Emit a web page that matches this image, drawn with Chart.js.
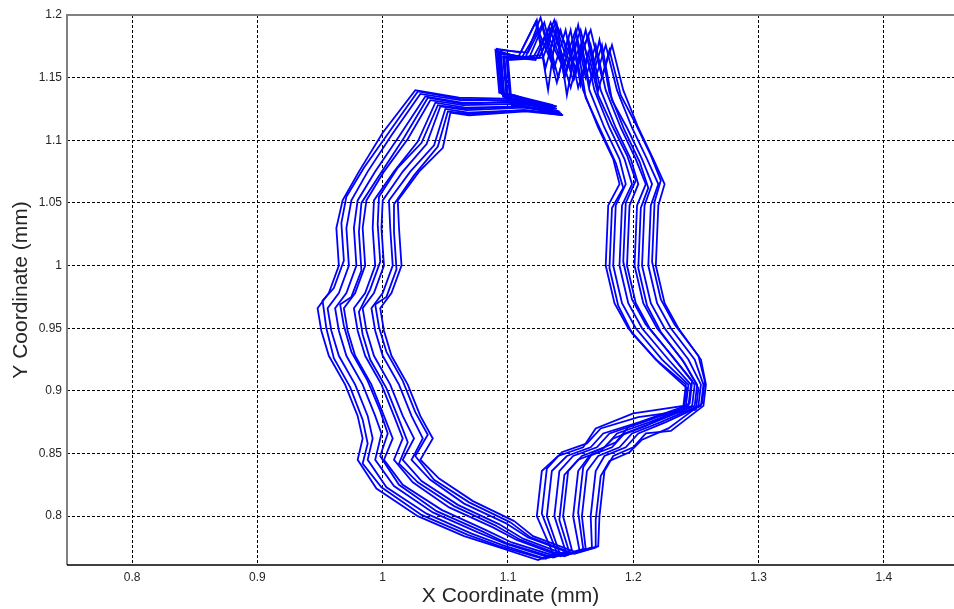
<!DOCTYPE html>
<html>
<head>
<meta charset="utf-8">
<script src="https://cdn.jsdelivr.net/npm/chart.js@4.4.0/dist/chart.umd.min.js"></script>
<style>
  html, body { margin: 0; padding: 0; background: #fff; }
  #wrap { width: 954px; height: 609px; }
</style>
</head>
<body>
<div id="wrap"><canvas id="chart" width="954" height="609"></canvas></div>
<script>
// axis limits and ticks
const xRange = [0.748, 1.456];
const yRange = [0.761, 1.2];
const xTicks = [0.8, 0.9, 1, 1.1, 1.2, 1.3, 1.4];
const yTicks = [0.8, 0.85, 0.9, 0.95, 1, 1.05, 1.1, 1.15, 1.2];

// repeated loops of the tip path (x mm, y mm)
const trace1 = [[1.065,0.784],[1.028,0.800],[0.995,0.822],[0.980,0.845],[0.984,0.862],[0.980,0.880],[0.970,0.905],[0.957,0.928],[0.951,0.948],[0.948,0.966],[0.957,0.978],[0.965,1.000],[0.963,1.030],[0.968,1.052],[0.981,1.075],[1.000,1.106],[1.026,1.140],[1.061,1.134],[1.106,1.133],[1.136,1.128],[1.104,1.136],[1.093,1.138],[1.090,1.172],[1.108,1.166],[1.122,1.194],[1.130,1.158],[1.138,1.188],[1.145,1.150],[1.153,1.176],[1.160,1.140],[1.172,1.110],[1.184,1.085],[1.189,1.065],[1.180,1.048],[1.178,1.000],[1.185,0.970],[1.196,0.950],[1.218,0.925],[1.242,0.905],[1.240,0.888],[1.200,0.882],[1.170,0.870],[1.160,0.855],[1.140,0.848],[1.127,0.836],[1.123,0.800],[1.136,0.770],[1.124,0.765],[1.090,0.776]];
const trace2 = [[1.071,0.786],[1.035,0.802],[1.003,0.823],[0.988,0.845],[0.992,0.862],[0.988,0.880],[0.978,0.905],[0.965,0.928],[0.959,0.948],[0.956,0.966],[0.965,0.978],[0.973,1.000],[0.971,1.030],[0.975,1.052],[0.988,1.075],[1.007,1.104],[1.030,1.137],[1.062,1.132],[1.107,1.132],[1.137,1.127],[1.106,1.135],[1.095,1.137],[1.092,1.171],[1.111,1.166],[1.124,1.188],[1.134,1.164],[1.142,1.188],[1.150,1.158],[1.158,1.176],[1.165,1.140],[1.177,1.110],[1.189,1.085],[1.194,1.065],[1.186,1.048],[1.184,1.000],[1.191,0.970],[1.202,0.950],[1.223,0.925],[1.244,0.905],[1.242,0.888],[1.205,0.875],[1.176,0.866],[1.166,0.855],[1.147,0.848],[1.135,0.836],[1.131,0.800],[1.141,0.771],[1.130,0.766],[1.095,0.777]];
const trace3 = [[1.076,0.787],[1.040,0.803],[1.009,0.824],[0.994,0.845],[0.999,0.866],[0.994,0.880],[0.984,0.905],[0.971,0.928],[0.965,0.948],[0.962,0.966],[0.971,0.978],[0.979,1.000],[0.977,1.030],[0.980,1.052],[0.994,1.075],[1.013,1.103],[1.034,1.135],[1.063,1.130],[1.108,1.130],[1.138,1.126],[1.107,1.133],[1.096,1.135],[1.093,1.170],[1.114,1.166],[1.126,1.198],[1.137,1.158],[1.146,1.188],[1.153,1.150],[1.161,1.176],[1.169,1.140],[1.181,1.110],[1.193,1.085],[1.199,1.065],[1.191,1.048],[1.189,1.000],[1.196,0.970],[1.207,0.950],[1.228,0.925],[1.246,0.905],[1.244,0.888],[1.208,0.875],[1.181,0.866],[1.171,0.855],[1.152,0.848],[1.141,0.836],[1.137,0.800],[1.146,0.772],[1.133,0.767],[1.098,0.778]];
const trace4 = [[1.082,0.789],[1.047,0.805],[1.016,0.825],[1.001,0.845],[1.008,0.862],[1.001,0.880],[0.991,0.905],[0.978,0.928],[0.972,0.948],[0.969,0.966],[0.978,0.978],[0.986,1.000],[0.984,1.030],[0.987,1.052],[1.001,1.075],[1.020,1.101],[1.038,1.132],[1.064,1.128],[1.109,1.129],[1.139,1.125],[1.109,1.132],[1.097,1.134],[1.094,1.169],[1.117,1.166],[1.129,1.194],[1.140,1.150],[1.150,1.188],[1.158,1.144],[1.166,1.176],[1.174,1.140],[1.186,1.110],[1.198,1.085],[1.204,1.065],[1.197,1.048],[1.195,1.000],[1.202,0.970],[1.213,0.950],[1.233,0.925],[1.249,0.905],[1.247,0.888],[1.213,0.875],[1.187,0.866],[1.177,0.855],[1.159,0.848],[1.148,0.836],[1.144,0.800],[1.151,0.773],[1.138,0.768],[1.103,0.779]];
const trace5 = [[1.088,0.791],[1.053,0.807],[1.024,0.827],[1.009,0.845],[1.016,0.862],[1.009,0.880],[0.999,0.905],[0.986,0.928],[0.980,0.948],[0.977,0.966],[0.986,0.978],[0.994,1.000],[0.992,1.030],[0.993,1.052],[1.009,1.075],[1.028,1.099],[1.042,1.130],[1.066,1.126],[1.111,1.127],[1.141,1.123],[1.111,1.130],[1.099,1.132],[1.096,1.167],[1.120,1.166],[1.131,1.186],[1.144,1.158],[1.154,1.188],[1.162,1.150],[1.170,1.176],[1.178,1.140],[1.190,1.110],[1.202,1.085],[1.210,1.065],[1.203,1.048],[1.201,1.000],[1.208,0.970],[1.219,0.950],[1.239,0.925],[1.251,0.905],[1.249,0.888],[1.217,0.875],[1.193,0.866],[1.183,0.855],[1.165,0.848],[1.156,0.836],[1.152,0.800],[1.157,0.773],[1.142,0.768],[1.107,0.781]];
const trace6 = [[1.094,0.793],[1.060,0.809],[1.031,0.828],[1.016,0.845],[1.025,0.862],[1.016,0.880],[1.006,0.905],[0.993,0.928],[0.987,0.948],[0.984,0.966],[0.993,0.978],[1.001,1.000],[0.999,1.030],[1.000,1.052],[1.016,1.075],[1.035,1.097],[1.046,1.127],[1.067,1.124],[1.112,1.126],[1.142,1.122],[1.113,1.129],[1.100,1.131],[1.097,1.166],[1.123,1.166],[1.134,1.194],[1.147,1.158],[1.158,1.188],[1.167,1.150],[1.175,1.176],[1.183,1.132],[1.195,1.110],[1.207,1.085],[1.215,1.065],[1.209,1.048],[1.207,1.000],[1.214,0.970],[1.225,0.950],[1.244,0.925],[1.254,0.905],[1.252,0.888],[1.222,0.875],[1.199,0.866],[1.189,0.855],[1.172,0.848],[1.163,0.836],[1.159,0.800],[1.162,0.774],[1.147,0.769],[1.112,0.782]];
const trace7 = [[1.099,0.794],[1.065,0.810],[1.038,0.829],[1.023,0.845],[1.032,0.862],[1.023,0.880],[1.013,0.905],[1.000,0.928],[0.994,0.948],[0.991,0.966],[1.000,0.978],[1.008,1.000],[1.006,1.030],[1.005,1.052],[1.022,1.075],[1.041,1.096],[1.050,1.125],[1.068,1.122],[1.113,1.124],[1.143,1.121],[1.114,1.127],[1.102,1.130],[1.099,1.165],[1.125,1.166],[1.136,1.190],[1.150,1.142],[1.162,1.188],[1.170,1.150],[1.178,1.176],[1.187,1.140],[1.199,1.110],[1.211,1.085],[1.220,1.065],[1.214,1.048],[1.212,1.000],[1.219,0.970],[1.230,0.950],[1.249,0.925],[1.256,0.905],[1.254,0.888],[1.226,0.875],[1.204,0.866],[1.194,0.855],[1.177,0.848],[1.170,0.836],[1.166,0.800],[1.167,0.775],[1.151,0.770],[1.116,0.783]];
const trace8 = [[1.105,0.796],[1.072,0.812],[1.045,0.830],[1.030,0.845],[1.040,0.862],[1.030,0.880],[1.020,0.905],[1.007,0.928],[1.001,0.948],[0.998,0.966],[1.007,0.978],[1.015,1.000],[1.013,1.030],[1.012,1.052],[1.029,1.075],[1.048,1.094],[1.054,1.122],[1.069,1.120],[1.114,1.123],[1.144,1.120],[1.116,1.126],[1.103,1.128],[1.100,1.164],[1.128,1.166],[1.138,1.194],[1.154,1.158],[1.166,1.188],[1.175,1.150],[1.183,1.176],[1.192,1.140],[1.204,1.110],[1.216,1.085],[1.225,1.065],[1.220,1.048],[1.218,1.000],[1.225,0.970],[1.236,0.950],[1.254,0.925],[1.258,0.905],[1.256,0.888],[1.230,0.868],[1.210,0.866],[1.200,0.855],[1.184,0.848],[1.177,0.836],[1.173,0.800],[1.172,0.776],[1.155,0.771],[1.120,0.784]];
const trace9 = [[1.068,0.785],[1.031,0.801],[0.999,0.823],[0.984,0.842],[0.988,0.858],[0.984,0.877],[0.974,0.903],[0.961,0.926],[0.955,0.950],[0.952,0.972],[0.961,0.982],[0.969,1.004],[0.967,1.034],[0.971,1.055],[0.985,1.078],[1.004,1.105],[1.028,1.139],[1.062,1.133],[1.107,1.131],[1.134,1.126],[1.105,1.136],[1.094,1.138],[1.091,1.173],[1.110,1.170],[1.123,1.196],[1.132,1.140],[1.139,1.192],[1.147,1.136],[1.155,1.180],[1.162,1.134],[1.174,1.108],[1.186,1.082],[1.192,1.062],[1.183,1.046],[1.181,0.998],[1.188,0.968],[1.199,0.946],[1.221,0.922],[1.243,0.902],[1.240,0.884],[1.204,0.879],[1.174,0.870],[1.163,0.858],[1.143,0.851],[1.131,0.838],[1.127,0.802],[1.139,0.771],[1.128,0.766],[1.093,0.776]];
const trace10 = [[1.079,0.788],[1.043,0.804],[1.013,0.825],[0.998,0.848],[1.004,0.866],[0.998,0.884],[0.988,0.908],[0.975,0.931],[0.969,0.952],[0.966,0.969],[0.975,0.975],[0.983,0.996],[0.981,1.027],[0.983,1.050],[0.998,1.073],[1.017,1.102],[1.036,1.134],[1.064,1.129],[1.109,1.131],[1.139,1.127],[1.108,1.134],[1.097,1.136],[1.094,1.172],[1.116,1.170],[1.127,1.192],[1.139,1.146],[1.148,1.182],[1.156,1.142],[1.164,1.170],[1.172,1.136],[1.183,1.112],[1.195,1.088],[1.202,1.068],[1.194,1.050],[1.192,1.003],[1.199,0.973],[1.210,0.953],[1.231,0.928],[1.247,0.908],[1.245,0.890],[1.210,0.872],[1.184,0.862],[1.174,0.852],[1.156,0.845],[1.145,0.833],[1.141,0.797],[1.149,0.771],[1.136,0.767],[1.100,0.778]];
const trace11 = [[1.091,0.792],[1.057,0.808],[1.028,0.827],[1.013,0.842],[1.020,0.859],[1.013,0.877],[1.003,0.902],[0.990,0.925],[0.984,0.945],[0.981,0.963],[0.990,0.981],[0.998,1.003],[0.996,1.033],[0.997,1.055],[1.012,1.078],[1.031,1.098],[1.044,1.128],[1.066,1.125],[1.111,1.127],[1.141,1.122],[1.112,1.130],[1.100,1.131],[1.097,1.167],[1.122,1.164],[1.133,1.190],[1.146,1.152],[1.156,1.192],[1.165,1.144],[1.173,1.180],[1.181,1.138],[1.193,1.108],[1.205,1.083],[1.212,1.062],[1.206,1.046],[1.204,0.998],[1.211,0.968],[1.222,0.947],[1.241,0.922],[1.252,0.902],[1.250,0.885],[1.220,0.880],[1.196,0.871],[1.186,0.859],[1.168,0.851],[1.160,0.839],[1.156,0.803],[1.160,0.774],[1.145,0.768],[1.110,0.781]];
const trace12 = [[1.102,0.795],[1.069,0.811],[1.041,0.829],[1.026,0.848],[1.036,0.865],[1.026,0.883],[1.016,0.908],[1.003,0.931],[0.997,0.951],[0.994,0.969],[1.003,0.975],[1.011,0.997],[1.009,1.027],[1.009,1.049],[1.025,1.072],[1.044,1.095],[1.052,1.123],[1.068,1.121],[1.113,1.124],[1.143,1.120],[1.115,1.127],[1.102,1.129],[1.099,1.165],[1.126,1.168],[1.137,1.196],[1.152,1.148],[1.164,1.184],[1.172,1.140],[1.181,1.172],[1.190,1.136],[1.202,1.113],[1.214,1.088],[1.222,1.068],[1.217,1.051],[1.215,1.003],[1.222,0.973],[1.233,0.953],[1.252,0.928],[1.257,0.908],[1.255,0.890],[1.228,0.870],[1.207,0.861],[1.197,0.851],[1.181,0.844],[1.174,0.832],[1.170,0.797],[1.170,0.775],[1.153,0.770],[1.118,0.783]];

const traces = [trace1, trace9, trace2, trace3, trace10, trace4, trace5, trace11, trace6, trace7, trace12, trace8];

// matlab style box: gray left/top, black bottom
const boxPlugin = {
  id: 'box',
  beforeDatasetsDraw(chart) {
    const { ctx, chartArea: a } = chart;
    ctx.save();
    ctx.strokeStyle = '#808080';
    ctx.lineWidth = 2;
    ctx.beginPath();
    ctx.moveTo(a.left, a.bottom);
    ctx.lineTo(a.left, a.top);
    ctx.lineTo(a.right, a.top);
    ctx.stroke();
    ctx.strokeStyle = '#000';
    ctx.lineWidth = 1.5;
    ctx.beginPath();
    ctx.moveTo(a.left, a.bottom);
    ctx.lineTo(a.right, a.bottom);
    ctx.stroke();
    ctx.restore();
  }
};

const tickFont = { family: 'Liberation Sans, Arial, sans-serif', size: 12 };
const titleFont = { family: 'Liberation Sans, Arial, sans-serif', size: 21 };

new Chart(document.getElementById('chart'), {
  type: 'scatter',
  data: {
    datasets: traces.map(t => ({
      data: t.concat([t[0]]).map(p => ({ x: p[0], y: p[1] })),
      showLine: true,
      borderColor: '#0000ff',
      borderWidth: 1.8,
      pointRadius: 0,
      tension: 0,
      fill: false
    }))
  },
  options: {
    responsive: false,
    animation: false,
    layout: { padding: { top: 15, right: 0, left: 0, bottom: 0 } },
    plugins: { legend: { display: false }, tooltip: { enabled: false } },
    scales: {
      x: {
        type: 'linear',
        min: xRange[0],
        max: xRange[1],
        afterBuildTicks: s => { s.ticks = xTicks.map(v => ({ value: v })); },
        afterFit: s => { s.height = 44; },
        grid: { color: '#000', lineWidth: 1, drawTicks: false },
        border: { display: false, dash: [3, 2] },
        ticks: { font: tickFont, color: '#262626', padding: 5, maxRotation: 0, callback: v => String(v) },
        title: { display: true, text: 'X Coordinate (mm)', font: titleFont, color: '#262626', padding: { top: 0, bottom: 0 } }
      },
      y: {
        type: 'linear',
        min: yRange[0],
        max: yRange[1],
        afterBuildTicks: s => { s.ticks = yTicks.map(v => ({ value: v })); },
        afterFit: s => { s.width = 67; },
        grid: { color: '#000', lineWidth: 1, drawTicks: false },
        border: { display: false, dash: [3, 2] },
        ticks: { font: tickFont, color: '#262626', padding: 5, callback: v => String(v) },
        title: { display: true, text: 'Y Coordinate (mm)', font: titleFont, color: '#262626', padding: { top: 9, bottom: 0 } }
      }
    }
  },
  plugins: [boxPlugin]
});
</script>
</body>
</html>
